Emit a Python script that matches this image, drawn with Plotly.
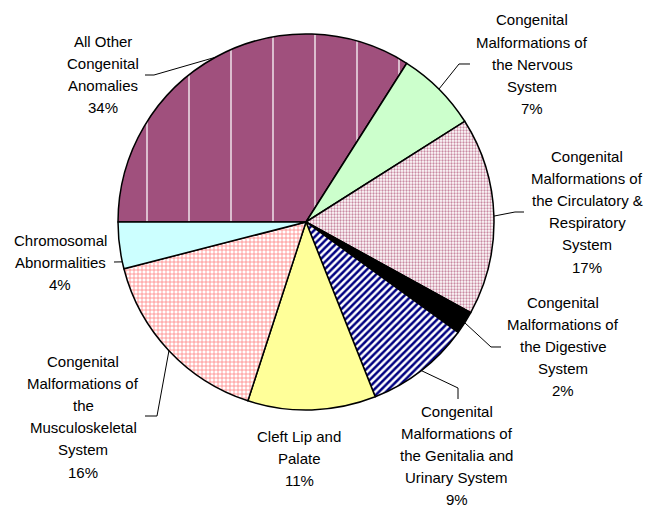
import math
import plotly.graph_objects as go

# ---- data ----
categories = [
    "All Other<br>Congenital<br>Anomalies",
    "Congenital<br>Malformations of<br>the Nervous<br>System",
    "Congenital<br>Malformations of<br>the Circulatory &<br>Respiratory<br>System",
    "Congenital<br>Malformations of<br>the Digestive<br>System",
    "Congenital<br>Malformations of<br>the Genitalia and<br>Urinary System",
    "Cleft Lip and<br>Palate",
    "Congenital<br>Malformations of<br>the<br>Musculoskeletal<br>System",
    "Chromosomal<br>Abnormalities",
]
values = [34, 7, 17, 2, 9, 11, 16, 4]

# ---- styles ----
W, H = 646, 510
CX, CY, R = 306, 222, 188          # pie centre / radius in pixels
START_DEG = 270                     # first slice starts at 9 o'clock, clockwise

colors = ["#A0507D", "#CCFFCC", "#FFFFFF", "#000000", "#FFFFFF", "#FFFF99", "#FFFFFF", "#CCFFFF"]
pattern_shape = ["|", "", ".", "", "/", "", "+", ""]
pattern_fg = ["#FFFFFF", "#CCFFCC", "#C98AA2", "#000000", "#000080", "#FFFF99", "#FF8080", "#CCFFFF"]
pattern_size = [42, 6, 3, 6, 5, 6, 4, 6]
pattern_sol = [0.03, 0.3, 0.45, 0.3, 0.5, 0.3, 0.35, 0.3]

# label placement (centre x, first line y) in pixels
label_pos = [(103, 41), (532, 20), (587, 156), (563, 302), (457, 411), (299, 436), (83, 361), (60, 240)]
LINE_H = 22.2
# leader line elbow points after the pie-edge start point
leader_pts = [
    [(154, 75), (145, 75)],
    [(459, 64), (470, 64)],
    [(515, 212), (524, 212)],
    [(491, 347), (501, 347)],
    [(458, 388), (458, 399)],
    None,
    [(157, 416), (145, 416)],
    [(114, 262)],
]
leader_frac = [0.5, 0.5, 0.5, 0.5, 0.5, 0.5, 0.5, 0.15]

FONT = dict(family="Arial, Liberation Sans, sans-serif", size=15, color="black")

fig = go.Figure(go.Pie(
    labels=[c.replace("<br>", " ") for c in categories],
    values=values,
    sort=False,
    direction="clockwise",
    rotation=START_DEG,
    textinfo="none",
    showlegend=False,
    marker=dict(
        colors=colors,
        line=dict(color="black", width=1.5),
        pattern=dict(shape=pattern_shape, fgcolor=pattern_fg, bgcolor=colors,
                     size=pattern_size, solidity=pattern_sol, fillmode="replace"),
    ),
    domain=dict(x=[(CX - R) / W, (CX + R) / W], y=[1 - (CY + R) / H, 1 - (CY - R) / H]),
))

def px(x, y):
    return x / W, 1 - y / H

total = sum(values)
annotations, shapes = [], []
cum = 0
for i, (cat, v) in enumerate(zip(categories, values)):
    a0 = START_DEG + 360 * cum / total
    a1 = START_DEG + 360 * (cum + v) / total
    cum += v
    lines = cat.split("<br>") + [f"{round(100 * v / total)}%"]
    lx, ly = label_pos[i]
    for j, t in enumerate(lines):
        x, y = px(lx, ly + j * LINE_H)
        annotations.append(dict(x=x, y=y, xref="paper", yref="paper", text=t, showarrow=False,
                                xanchor="center", yanchor="middle", font=FONT))
    if leader_pts[i]:
        ang = math.radians(a0 + (a1 - a0) * leader_frac[i])
        sx, sy = CX + R * math.sin(ang), CY - R * math.cos(ang)
        pts = [(sx, sy)] + leader_pts[i]
        path = "M " + " L ".join(f"{px(a, b)[0]:.5f},{px(a, b)[1]:.5f}" for a, b in pts)
        shapes.append(dict(type="path", path=path, xref="paper", yref="paper",
                           line=dict(color="black", width=1)))

fig.update_layout(
    width=W, height=H,
    margin=dict(l=0, r=0, t=0, b=0),
    paper_bgcolor="white", plot_bgcolor="white",
    annotations=annotations, shapes=shapes,
)
fig.write_html("out.html", config={"displayModeBar": False},
               post_script="document.body.style.margin='0';document.body.style.padding='0';")
